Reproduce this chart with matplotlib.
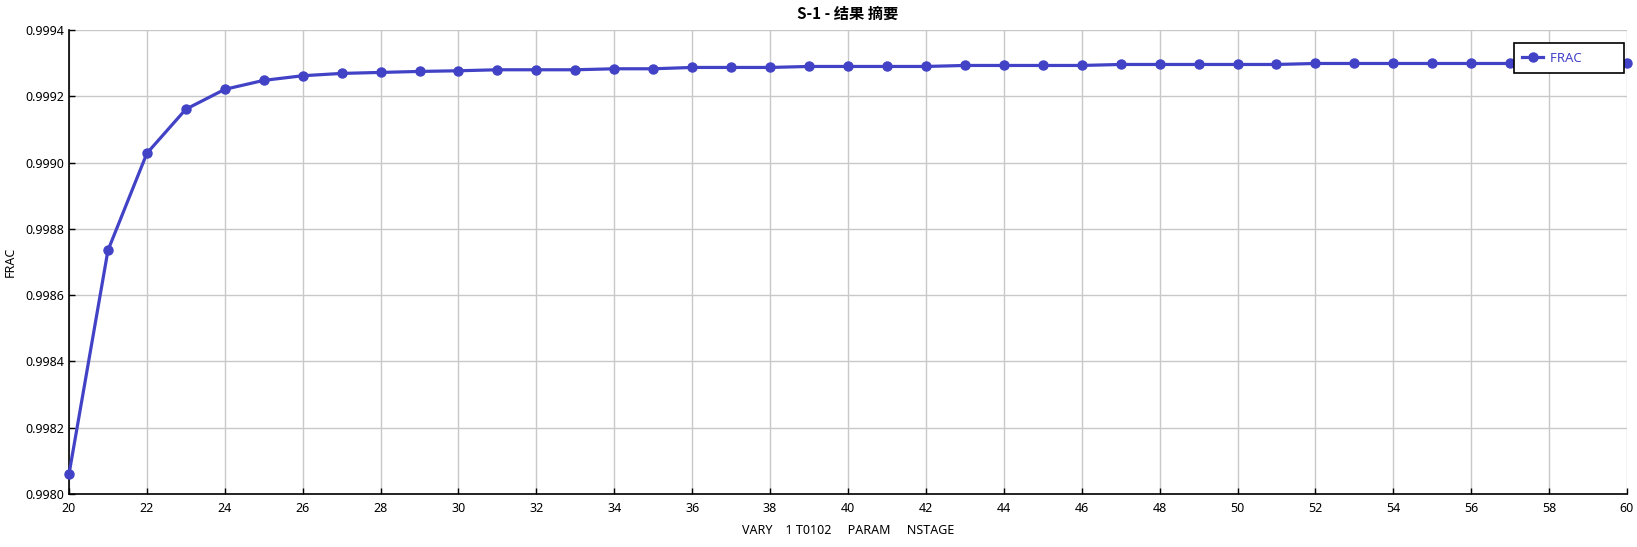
import matplotlib
matplotlib.use("Agg")
import matplotlib.pyplot as plt

plt.rcParams['font.family'] = ['Noto Sans', 'Noto Sans CJK SC', 'DejaVu Sans']

# data
nstage = list(range(20, 61))
frac = [
    0.998060, 0.998735, 0.999028, 0.999161, 0.999221, 0.999248, 0.999262,
    0.999269, 0.999272, 0.999275, 0.999277, 0.999280, 0.999280, 0.999280,
    0.999283, 0.999283, 0.999287, 0.999287, 0.999287, 0.999290, 0.999290,
    0.999290, 0.999290, 0.999293, 0.999293, 0.999293, 0.999293, 0.999296,
    0.999296, 0.999296, 0.999296, 0.999296, 0.999299, 0.999299, 0.999299,
    0.999299, 0.999299, 0.999299, 0.999299, 0.999299, 0.999300,
]
x_ticks = list(range(20, 61, 2))
y_ticks = [0.9980, 0.9982, 0.9984, 0.9986, 0.9988, 0.9990, 0.9992, 0.9994]

line_color = '#4242C6'

fig = plt.figure(figsize=(16.37, 5.47), dpi=100)
ax = fig.add_axes([69 / 1637, 1 - 494 / 547, 1558 / 1637, 464 / 547])

ax.plot(nstage, frac, color=line_color, linewidth=2.3, marker='o',
        markersize=6.5, label='FRAC', clip_on=False, zorder=3)

ax.set_xlim(20, 60)
ax.set_ylim(0.9980, 0.9994)
ax.set_xticks(x_ticks)
ax.set_yticks(y_ticks)
ax.set_yticklabels([f"{v:.4f}" for v in y_ticks])
ax.tick_params(direction='in', length=4, labelsize=9, width=1)
ax.tick_params(axis='x', pad=6)

ax.grid(True, color='#C8C8C8', linewidth=1)
ax.set_axisbelow(True)
for s in ['top', 'right']:
    ax.spines[s].set_visible(False)
for s in ['left', 'bottom']:
    ax.spines[s].set_linewidth(1.2)

ax.set_ylabel('FRAC', fontsize=9, labelpad=6)
ax.set_xlabel('VARY    1 T0102     PARAM     NSTAGE', fontsize=9, labelpad=6)
ax.set_title('S-1 - 结果 摘要', fontsize=11, fontweight='bold', pad=8,
             family=['Noto Sans CJK SC', 'DejaVu Sans'])

# trailing spaces widen the legend box like the reference
leg = ax.legend(['FRAC          '], loc='upper right',
                bbox_to_anchor=(1624 / 1637, 1 - 43 / 547),
                bbox_transform=fig.transFigure, fancybox=False, framealpha=1,
                edgecolor='black', fontsize=9.5, handlelength=1.6,
                handletextpad=0.5, borderpad=0.65, borderaxespad=0)
leg.get_frame().set_linewidth(1.2)
for t in leg.get_texts():
    t.set_color(line_color)

fig.savefig('out.png', dpi=100)
